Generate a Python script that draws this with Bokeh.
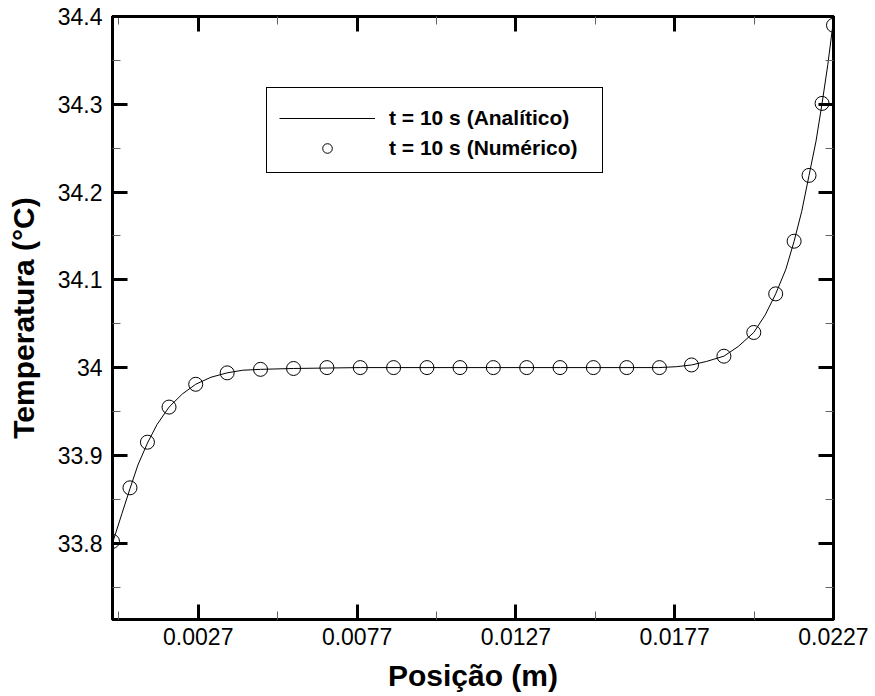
from bokeh.plotting import figure
from bokeh.models import (Range1d, FixedTicker, LinearAxis, Legend, LegendItem,
                          CustomLabelingPolicy)
from bokeh.embed import file_html
from bokeh.resources import INLINE

# ---- data ----
x_num = [0.0, 0.00055, 0.0011, 0.00178, 0.00262, 0.00361, 0.00466,
         0.0057, 0.00675, 0.0078, 0.00885, 0.0099, 0.01094, 0.01199,
         0.01304, 0.01409, 0.01514, 0.01619, 0.01722,
         0.01823, 0.01925, 0.02019, 0.02088, 0.02146, 0.02193, 0.02234, 0.0227]
y_num = [33.802, 33.863, 33.915, 33.955, 33.981, 33.994, 33.998,
         33.999, 34.0, 34.0, 34.0, 34.0, 34.0, 34.0,
         34.0, 34.0, 34.0, 34.0, 34.0,
         34.003, 34.013, 34.040, 34.084, 34.144, 34.219, 34.301, 34.390]

x_an = [0.0, 0.0003, 0.00055, 0.0008, 0.0011, 0.0014, 0.00178, 0.0022, 0.00262, 0.0031,
        0.00361, 0.0041, 0.00466, 0.0057, 0.0078, 0.0099, 0.0120, 0.0141, 0.0162, 0.0172,
        0.01775, 0.01823, 0.0187, 0.01925, 0.0197, 0.02019, 0.02055, 0.02088, 0.0212, 0.02146,
        0.0217, 0.02193, 0.02215, 0.02234, 0.02252, 0.0227]
y_an = [33.800, 33.834, 33.862, 33.889, 33.914, 33.935, 33.955, 33.970, 33.981, 33.989,
        33.994, 33.997, 33.998, 33.999, 34.0, 34.0, 34.0, 34.0, 34.0, 34.0,
        34.001, 34.003, 34.007, 34.013, 34.024, 34.040, 34.060, 34.084, 34.112, 34.144,
        34.178, 34.219, 34.258, 34.301, 34.345, 34.396]

x_ticks = [0.0027, 0.0077, 0.0127, 0.0177, 0.0227]
x_tick_labels = ["0.0027", "0.0077", "0.0127", "0.0177", "0.0227"]
x_minor = [0.0002, 0.0052, 0.0102, 0.0152, 0.0202]
y_ticks = [33.8, 33.9, 34.0, 34.1, 34.2, 34.3, 34.4]
y_tick_labels = ["33.8", "33.9", "34", "34.1", "34.2", "34.3", "34.4"]
y_minor = [33.75, 33.85, 33.95, 34.05, 34.15, 34.25, 34.35]

label_an = "t = 10 s (Analítico)"
label_num = "t = 10 s (Numérico)"

FONT = "Liberation Sans"

p = figure(width=875, height=696, output_backend="svg", toolbar_location=None,
           x_range=Range1d(0.0, 0.0227), y_range=Range1d(33.713, 34.4),
           min_border_left=112, min_border_right=42, min_border_top=16,
           min_border_bottom=77)
p.grid.visible = False
p.background_fill_color = "white"
p.border_fill_color = "white"
p.outline_line_color = "black"
p.outline_line_width = 3
p.outline_line_alpha = 1.0

hide_all = CustomLabelingPolicy(code="return new Set()")


def style(ax, ticks, minor, labels):
    ax.ticker = FixedTicker(ticks=ticks, minor_ticks=minor)
    ax.major_tick_in = 15
    ax.major_tick_out = 0
    ax.minor_tick_in = 8
    ax.minor_tick_out = 0
    ax.major_tick_line_width = 3
    ax.major_tick_line_color = "black"
    ax.minor_tick_line_width = 1
    ax.minor_tick_line_color = "#606060"
    ax.axis_line_width = 3
    ax.axis_line_color = "black"
    if labels is None:
        ax.major_label_policy = hide_all
        ax.major_label_text_font_size = "1px"
        ax.major_label_standoff = 0
        ax.axis_label = None
    else:
        ax.major_label_overrides = dict(zip(ticks, labels))
        ax.major_label_text_font = FONT
        ax.major_label_text_font_size = "23px"
        ax.major_label_text_color = "black"
        ax.axis_label_text_font = FONT
        ax.axis_label_text_font_size = "30px"
        ax.axis_label_text_font_style = "bold"
        ax.axis_label_text_color = "black"


xa = p.xaxis[0]
style(xa, x_ticks, x_minor, x_tick_labels)
xa.axis_label = "Posição (m)"
xa.major_label_standoff = 8
xa.axis_label_standoff = 11

ya = p.yaxis[0]
style(ya, y_ticks, y_minor, y_tick_labels)
ya.axis_label = "Temperatura (°C)"
ya.major_label_standoff = 10
ya.axis_label_standoff = 15

top = LinearAxis()
style(top, x_ticks, x_minor, None)
p.add_layout(top, "above")
right = LinearAxis()
style(right, y_ticks, y_minor, None)
p.add_layout(right, "right")

r_line = p.line(x_an, y_an, line_color="black", line_width=1)
r_pts = p.scatter(x_num, y_num, marker="circle", size=14, fill_color=None,
                  line_color="black", line_width=1)

legend = Legend(items=[LegendItem(label=label_an, renderers=[r_line]),
                       LegendItem(label=label_num, renderers=[r_pts])],
                location=(154, 446))
legend.title = " "
legend.title_text_font_size = "6px"
legend.title_standoff = 0
legend.border_line_color = "black"
legend.border_line_width = 1
legend.border_line_alpha = 1.0
legend.background_fill_color = "white"
legend.background_fill_alpha = 1.0
legend.padding = 12
legend.spacing = 6
legend.margin = 0
legend.glyph_width = 96
legend.glyph_height = 24
legend.label_height = 24
legend.label_width = 201
legend.label_standoff = 14
legend.label_text_font = FONT
legend.label_text_font_size = "21px"
legend.label_text_font_style = "bold"
legend.label_text_color = "black"
p.add_layout(legend, "center")

open("out.html", "w").write(file_html(p, INLINE))
